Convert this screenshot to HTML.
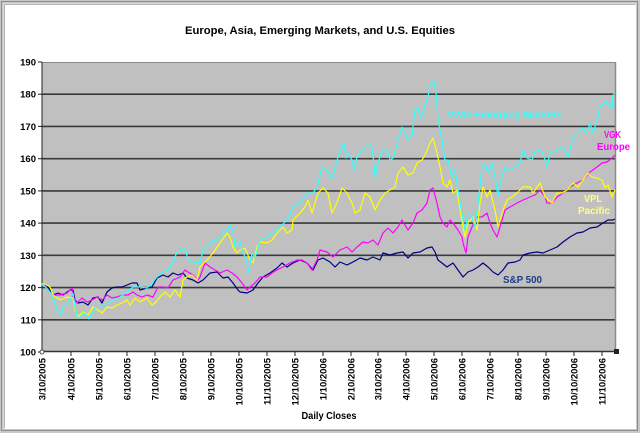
<!DOCTYPE html>
<html><head><meta charset="utf-8"><style>
html,body{margin:0;padding:0;background:#fff;}
svg{display:block;}
text{font-family:"Liberation Sans",Arial,sans-serif;font-weight:bold;}
</style></head><body>
<svg width="640" height="433" viewBox="0 0 640 433" xmlns="http://www.w3.org/2000/svg">
<rect x="0" y="0" width="640" height="433" fill="#c8c8c8"/>
<rect x="1.5" y="1.5" width="636" height="429" fill="none" stroke="#8c8c8c" stroke-width="1"/>
<rect x="3.5" y="3.5" width="632" height="425" fill="#b4b4b4" stroke="#d8d8d8" stroke-width="1"/>
<rect x="5" y="5" width="631" height="424" fill="#ffffff"/>

<text x="320" y="34" font-size="11" text-anchor="middle" fill="#000" textLength="270" lengthAdjust="spacingAndGlyphs">Europe, Asia, Emerging Markets, and U.S. Equities</text>

<rect x="42" y="62" width="574" height="290" fill="#c0c0c0"/>
<g stroke="#3a3a3a" stroke-width="1.6">
<line x1="42" y1="94.2" x2="616" y2="94.2"/>
<line x1="42" y1="126.4" x2="616" y2="126.4"/>
<line x1="42" y1="158.7" x2="616" y2="158.7"/>
<line x1="42" y1="190.9" x2="616" y2="190.9"/>
<line x1="42" y1="223.1" x2="616" y2="223.1"/>
<line x1="42" y1="255.3" x2="616" y2="255.3"/>
<line x1="42" y1="287.6" x2="616" y2="287.6"/>
<line x1="42" y1="319.8" x2="616" y2="319.8"/>
</g>
<line x1="42" y1="62.5" x2="616" y2="62.5" stroke="#8a8a8a" stroke-width="1"/>
<line x1="615.5" y1="62" x2="615.5" y2="352" stroke="#8a8a8a" stroke-width="1.5"/>
<line x1="42" y1="62" x2="42" y2="352" stroke="#222" stroke-width="1"/>
<line x1="42" y1="351.5" x2="616" y2="351.5" stroke="#333" stroke-width="1.5"/>

<g stroke="#222" stroke-width="1">
<line x1="38" y1="62" x2="42" y2="62"/>
<line x1="38" y1="94.2" x2="42" y2="94.2"/>
<line x1="38" y1="126.4" x2="42" y2="126.4"/>
<line x1="38" y1="158.7" x2="42" y2="158.7"/>
<line x1="38" y1="190.9" x2="42" y2="190.9"/>
<line x1="38" y1="223.1" x2="42" y2="223.1"/>
<line x1="38" y1="255.3" x2="42" y2="255.3"/>
<line x1="38" y1="287.6" x2="42" y2="287.6"/>
<line x1="38" y1="319.8" x2="42" y2="319.8"/>
<line x1="38" y1="352" x2="42" y2="352"/>
<line x1="71" y1="352" x2="71" y2="356"/>
<line x1="99" y1="352" x2="99" y2="356"/>
<line x1="127" y1="352" x2="127" y2="356"/>
<line x1="155" y1="352" x2="155" y2="356"/>
<line x1="183" y1="352" x2="183" y2="356"/>
<line x1="211" y1="352" x2="211" y2="356"/>
<line x1="239" y1="352" x2="239" y2="356"/>
<line x1="267" y1="352" x2="267" y2="356"/>
<line x1="295" y1="352" x2="295" y2="356"/>
<line x1="323" y1="352" x2="323" y2="356"/>
<line x1="351" y1="352" x2="351" y2="356"/>
<line x1="378" y1="352" x2="378" y2="356"/>
<line x1="406" y1="352" x2="406" y2="356"/>
<line x1="434" y1="352" x2="434" y2="356"/>
<line x1="462" y1="352" x2="462" y2="356"/>
<line x1="490" y1="352" x2="490" y2="356"/>
<line x1="518" y1="352" x2="518" y2="356"/>
<line x1="546" y1="352" x2="546" y2="356"/>
<line x1="574" y1="352" x2="574" y2="356"/>
<line x1="602" y1="352" x2="602" y2="356"/>
</g>
<circle cx="42" cy="352" r="2" fill="#fff" stroke="#222" stroke-width="0.8"/>
<rect x="614" y="349" width="5" height="5" fill="#222"/>

<g font-size="9.5" text-anchor="end" fill="#000">
<text x="36" y="65.5">190</text>
<text x="36" y="97.7">180</text>
<text x="36" y="129.9">170</text>
<text x="36" y="162.2">160</text>
<text x="36" y="194.4">150</text>
<text x="36" y="226.6">140</text>
<text x="36" y="258.8">130</text>
<text x="36" y="291.1">120</text>
<text x="36" y="323.3">110</text>
<text x="36" y="355.5">100</text>
</g>

<g font-size="9.5" text-anchor="end" fill="#000">
<text transform="translate(45.5,358) rotate(-90)">3/10/2005</text>
<text transform="translate(74.5,358) rotate(-90)">4/10/2005</text>
<text transform="translate(102.5,358) rotate(-90)">5/10/2005</text>
<text transform="translate(130.5,358) rotate(-90)">6/10/2005</text>
<text transform="translate(158.5,358) rotate(-90)">7/10/2005</text>
<text transform="translate(186.5,358) rotate(-90)">8/10/2005</text>
<text transform="translate(214.5,358) rotate(-90)">9/10/2005</text>
<text transform="translate(242.5,358) rotate(-90)">10/10/2005</text>
<text transform="translate(270.5,358) rotate(-90)">11/10/2005</text>
<text transform="translate(298.5,358) rotate(-90)">12/10/2005</text>
<text transform="translate(326.5,358) rotate(-90)">1/10/2006</text>
<text transform="translate(354.5,358) rotate(-90)">2/10/2006</text>
<text transform="translate(381.5,358) rotate(-90)">3/10/2006</text>
<text transform="translate(409.5,358) rotate(-90)">4/10/2006</text>
<text transform="translate(437.5,358) rotate(-90)">5/10/2006</text>
<text transform="translate(465.5,358) rotate(-90)">6/10/2006</text>
<text transform="translate(493.5,358) rotate(-90)">7/10/2006</text>
<text transform="translate(521.5,358) rotate(-90)">8/10/2006</text>
<text transform="translate(549.5,358) rotate(-90)">9/10/2006</text>
<text transform="translate(577.5,358) rotate(-90)">10/10/2006</text>
<text transform="translate(605.5,358) rotate(-90)">11/10/2006</text>
</g>

<text x="329" y="419" font-size="10" text-anchor="middle" fill="#000" textLength="55" lengthAdjust="spacingAndGlyphs">Daily Closes</text>

<g fill="none" stroke-width="1.2" stroke-linejoin="round">
<polyline stroke="#000080" points="42,285 43,283 48,287 53,295 58,293 63,295 70,290 73,290 75,300 78,303 83,302 88,305 93,298 98,297 102,303 107,292 112,288 117,287 122,287 127,285 132,283 137,283 140,290 147,288 152,287 157,278 163,275 168,277 173,273 178,275 183,273 187,278 193,280 198,283 203,280 210,273 217,272 223,278 228,277 233,283 238,290 240,292 247,293 253,290 258,283 263,277 270,273 277,268 282,263 287,267 293,263 300,260 307,263 313,270 318,260 323,258 330,262 335,267 340,262 347,265 353,262 360,258 367,260 373,257 380,260 383,253 390,255 397,253 403,252 408,258 413,253 420,252 427,248 432,247 435,252 438,260 442,263 447,267 453,263 458,270 463,277 468,272 473,270 478,267 483,263 488,267 493,272 498,275 503,270 508,263 515,262 520,260 523,255 530,253 537,252 543,253 550,250 557,247 563,242 570,237 577,233 583,232 590,228 597,227 603,223 608,220 613,220 615,219"/>
<polyline stroke="#ff00ff" points="42,285 43,283 48,290 53,295 60,295 67,293 72,288 73,297 77,303 82,298 87,302 92,300 97,297 102,300 107,295 112,298 117,297 123,295 128,295 133,292 137,295 142,297 147,295 153,297 158,287 163,287 168,288 173,280 180,277 185,270 188,272 193,275 198,280 200,277 205,263 210,267 215,270 220,273 227,270 232,273 237,277 242,283 247,290 250,287 255,283 260,277 267,277 272,273 277,270 283,267 290,263 297,260 302,260 307,263 312,270 317,260 320,250 327,252 333,257 340,250 347,247 352,252 357,247 363,242 368,243 373,240 378,245 383,233 388,228 393,233 398,227 402,220 405,225 408,230 413,223 417,213 422,210 427,203 430,190 433,188 437,203 440,217 443,223 447,227 450,220 453,223 458,230 462,237 463,243 466,253 468,237 472,227 477,217 482,217 487,213 490,223 493,230 497,237 500,227 505,210 510,207 517,203 523,200 530,197 535,195 540,190 545,197 547,203 552,203 557,197 563,193 570,187 577,183 583,180 590,172 597,167 602,163 607,162 612,158 615,155"/>
<polyline stroke="#ffff00" points="42,285 43,283 50,287 53,295 60,300 67,297 73,298 75,310 78,317 83,312 88,315 93,307 98,310 102,313 107,307 112,308 117,305 122,303 127,300 130,305 135,298 140,302 147,298 152,305 155,303 160,297 165,292 170,297 175,290 180,297 183,280 187,277 192,275 197,280 200,267 207,260 213,253 220,243 227,233 230,237 233,247 237,253 240,250 245,248 250,260 253,263 257,247 260,242 267,243 272,240 277,233 283,227 287,233 292,230 293,220 300,213 305,207 308,200 312,213 315,203 318,193 323,188 328,193 332,213 335,207 338,200 342,188 347,193 352,203 355,213 360,210 365,193 370,197 375,210 380,200 385,193 390,190 395,187 398,173 403,167 408,175 413,173 417,163 422,160 425,155 430,143 433,138 437,153 440,167 443,183 447,187 450,180 453,193 457,190 460,210 463,227 465,237 468,223 473,217 477,230 480,203 483,187 487,197 490,190 495,210 498,227 502,213 507,200 512,197 517,193 523,187 530,187 533,193 540,183 545,197 552,203 557,193 562,193 567,190 573,183 578,187 583,180 588,173 592,177 597,178 602,180 605,188 608,185 612,197 615,190"/>
<polyline stroke="#33ffff" points="42,285 43,284 48,290 52,295 55,303 58,313 61,315 63,307 67,303 70,300 73,293 75,307 77,317 80,318 83,313 87,315 89,319 92,313 95,308 100,307 107,303 113,300 120,297 127,292 133,287 140,287 147,288 152,283 157,277 163,272 168,270 173,262 177,252 182,250 185,248 188,260 193,262 200,263 203,250 207,247 213,240 217,240 223,233 227,230 230,225 233,233 235,247 240,242 243,253 247,260 248,273 252,253 255,258 260,240 267,237 273,233 280,227 287,220 293,207 300,203 307,193 313,193 317,187 322,167 327,170 332,178 335,167 338,157 342,147 344,143 346,158 348,153 352,160 354,170 357,157 362,150 367,147 371,143 373,155 375,177 378,163 382,150 387,150 390,160 393,158 398,140 402,127 405,133 408,140 412,135 415,110 418,108 421,118 425,105 428,97 430,85 432,83 434,82 436,92 438,120 442,140 445,160 448,160 452,177 455,170 457,183 460,203 463,220 465,230 468,213 472,217 475,227 478,203 482,167 485,163 488,173 492,163 495,177 498,197 500,183 505,167 510,170 515,167 520,163 523,150 527,158 532,160 535,152 538,150 543,153 547,167 550,153 557,150 563,147 568,157 573,137 578,132 583,128 587,133 590,123 593,133 597,120 600,107 605,102 608,103 612,108 613,95 615,93"/>
</g>

<text x="447" y="118" font-size="10.5" fill="#33ffff" textLength="115" lengthAdjust="spacingAndGlyphs">VWO Emerging Markets</text>
<text x="604" y="138" font-size="10.5" fill="#ff00ff" textLength="17" lengthAdjust="spacingAndGlyphs">VGK</text>
<text x="597" y="150" font-size="10.5" fill="#ff00ff" textLength="33" lengthAdjust="spacingAndGlyphs">Europe</text>
<text x="584" y="202" font-size="10.5" fill="#ffff80" textLength="18" lengthAdjust="spacingAndGlyphs">VPL</text>
<text x="578" y="214" font-size="10.5" fill="#ffff80" textLength="32" lengthAdjust="spacingAndGlyphs">Pacific</text>
<text x="503" y="283" font-size="10.5" fill="#1f3a8a" textLength="39" lengthAdjust="spacingAndGlyphs">S&amp;P 500</text>
</svg>
</body></html>
